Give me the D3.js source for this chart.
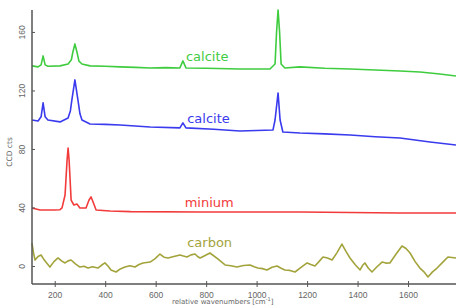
<!DOCTYPE html>
<html>
<head>
<meta charset="utf-8">
<script src="https://cdn.jsdelivr.net/npm/d3@7"></script>
<style>
  body { margin: 0; background: #fff; }
  svg { font-family: "DejaVu Sans", sans-serif; }
</style>
</head>
<body>
<svg id="chart" width="456" height="307"></svg>
<script>
// tick values
const xTicks = [200, 400, 600, 800, 1000, 1200, 1400, 1600];
const yTicks = [0, 40, 80, 120, 160];

// spectra: [relative wavenumber, CCD counts]
const calciteTop = [
  [110, 136.8], [134, 136.1], [146, 137.5], [154, 143.6], [162, 137.5], [173, 136.6],
  [221, 136.8], [253, 138.1], [266, 141], [272, 146.3], [280, 151.8], [288, 146.3],
  [296, 140], [308, 138.1], [340, 136.8], [400, 136.5], [459, 136.1], [520, 135.8],
  [578, 135.4], [640, 135.6], [696, 135.4], [708, 140.2], [720, 135.4], [800, 135.2],
  [934, 134.7], [1053, 134.7], [1073, 138.1], [1079, 160], [1085, 175], [1091, 160],
  [1097, 138.1], [1112, 135.4], [1172, 136.1], [1270, 135.2], [1370, 134.7],
  [1470, 134], [1568, 133.3], [1647, 132.6], [1726, 131.3], [1790, 129.9]
];

const calciteMid = [
  [110, 99.8], [134, 99.1], [146, 102], [154, 111.5], [162, 102], [173, 99.8],
  [221, 98.5], [253, 101.2], [262, 106], [268, 113.5], [280, 127.2], [292, 113.5],
  [300, 104], [308, 99.8], [340, 97.1], [400, 96.8], [459, 96.4], [578, 95],
  [696, 94.4], [708, 97.8], [720, 94.4], [830, 93.5], [934, 92.3], [1065, 93],
  [1073, 99.8], [1085, 118.3], [1093, 99.8], [1104, 91.6], [1172, 90.9],
  [1270, 90.3], [1370, 89.6], [1470, 88.4], [1568, 87.5], [1687, 84.8], [1790, 82.7]
];

const minium = [
  [110, 39.7], [142, 38.3], [200, 38.3], [221, 38.5], [229, 39.7], [241, 48.5],
  [249, 72.5], [253, 80.7], [257, 72.5], [265, 45.1], [276, 41.7], [288, 42.4],
  [300, 39.7], [324, 39.7], [336, 45.1], [344, 47.2], [352, 43.8], [364, 38.3],
  [419, 37.6], [500, 37.2], [776, 36.9], [1172, 36.9], [1568, 36.2], [1790, 36.2]
];

const carbon = [
  [110, 15.7], [116, 9], [122, 4.1], [134, 6.5], [146, 7.5], [155, 5], [165, 2.7],
  [181, -0.7], [197, 3], [213, 5.5], [227, 3.5], [241, 2.1], [253, 3.5], [265, 4.1],
  [282, 1.5], [300, -0.7], [316, -0.2], [332, -1.4], [350, -0.5], [371, -1.4],
  [385, 0.5], [399, 2.1], [411, 0], [423, -2.7], [443, -4.1], [460, -2], [478, -0.7],
  [498, 0.2], [518, -0.7], [534, 1], [550, 2.1], [578, 2.7], [598, 5], [617, 8.2],
  [633, 6], [649, 5.5], [672, 6.5], [696, 7.5], [710, 6.8], [724, 6.2], [740, 7.6],
  [756, 8.2], [766, 6.5], [776, 5.5], [796, 7.2], [815, 8.9], [845, 5], [875, 0.7],
  [898, 0.2], [922, -0.7], [948, 0.3], [974, 0.7], [990, -0.5], [1005, -1.4],
  [1023, -1.8], [1041, -2.7], [1061, -0.8], [1081, 0], [1097, -1.5], [1112, -2.7],
  [1132, -3], [1152, -4.1], [1176, -1], [1200, 2.1], [1215, 1], [1231, 0],
  [1247, 3], [1263, 6.2], [1281, 5.5], [1299, 4.1], [1318, 9], [1338, 15],
  [1354, 10], [1370, 5.5], [1390, 1], [1410, -2.7], [1420, 0.5], [1429, 2.1],
  [1443, -1.5], [1457, -4.1], [1477, -0.5], [1497, 2.7], [1512, 2], [1528, 2.1],
  [1552, 8], [1576, 13.7], [1592, 12], [1608, 8.9], [1628, 3], [1647, -1.4],
  [1663, -4], [1679, -7.5], [1697, -4], [1715, -1.4], [1737, 2.5], [1758, 6.2],
  [1790, 5.5]
];

const seriesList = [
  { name: 'calcite', data: calciteTop, color: '#3fcc3f', label: [720, 140] },
  { name: 'calcite', data: calciteMid, color: '#3a3aee', label: [725, 98] },
  { name: 'minium', data: minium, color: '#f23a3a', label: [715, 40] },
  { name: 'carbon', data: carbon, color: '#a3a33c', label: [725, 13] }
];

const svg = d3.select('#chart');
const margin = { left: 32, top: 10, right: 0, bottom: 23 };
const width = +svg.attr('width');
const height = +svg.attr('height');
const innerWidth = width - margin.left - margin.right;
const innerHeight = height - margin.top - margin.bottom;

const xScale = d3.scaleLinear().domain([110, 1790]).range([0, innerWidth]);
const yScale = d3.scaleLinear().domain([-12.3, 175]).range([innerHeight, 0]);

const g = svg.append('g')
  .attr('transform', `translate(${margin.left},${margin.top})`);

// lines
const line = d3.line()
  .x(d => xScale(d[0]))
  .y(d => yScale(d[1]));

g.selectAll('.spectrum').data(seriesList)
  .enter().append('path')
    .attr('class', 'spectrum')
    .attr('fill', 'none')
    .attr('stroke', d => d.color)
    .attr('stroke-width', 1.6)
    .attr('stroke-linejoin', 'round')
    .attr('d', d => line(d.data));

g.selectAll('.series-label').data(seriesList)
  .enter().append('text')
    .attr('class', 'series-label')
    .attr('x', d => xScale(d.label[0]))
    .attr('y', d => yScale(d.label[1]))
    .attr('fill', d => d.color)
    .style('font-size', '13px')
    .text(d => d.name);

// axes
const axisColor = '#555';

const xAxis = d3.axisBottom(xScale)
  .tickValues(xTicks)
  .tickFormat(d3.format('d'))
  .tickSize(3)
  .tickPadding(5);
const xAxisG = g.append('g')
  .attr('transform', `translate(0,${innerHeight})`)
  .call(xAxis);
xAxisG.select('.domain').attr('stroke', axisColor).attr('stroke-width', 1.5)
  .attr('d', `M0,0H${innerWidth}`);
xAxisG.selectAll('.tick line')
  .attr('stroke', axisColor)
  .attr('y1', -3);
xAxisG.selectAll('.tick text')
  .attr('fill', '#666')
  .style('font-size', '8.5px');

const yAxis = d3.axisLeft(yScale)
  .tickValues(yTicks)
  .tickSize(3)
  .tickPadding(0);
const yAxisG = g.append('g').call(yAxis);
yAxisG.select('.domain').attr('stroke', axisColor).attr('stroke-width', 1.5)
  .attr('d', `M0,0V${innerHeight}`);
yAxisG.selectAll('.tick line')
  .attr('stroke', axisColor)
  .attr('x2', 3);
yAxisG.selectAll('.tick text')
  .attr('fill', '#666')
  .style('font-size', '8.5px')
  .attr('x', null)
  .attr('dy', null)
  .attr('text-anchor', 'middle')
  .attr('transform', 'translate(-7,0) rotate(-90)');

// axis titles
svg.append('text')
  .attr('transform', 'translate(12,152) rotate(-90)')
  .attr('text-anchor', 'middle')
  .attr('fill', '#666')
  .style('font-size', '7.5px')
  .text('CCD cts');

svg.append('text')
  .attr('x', 172)
  .attr('y', 304)
  .attr('fill', '#666')
  .style('font-size', '7px')
  .html('relative wavenumbers [cm<tspan dy="-3" font-size="5px">-1</tspan><tspan dy="3">]</tspan>');
</script>
</body>
</html>
